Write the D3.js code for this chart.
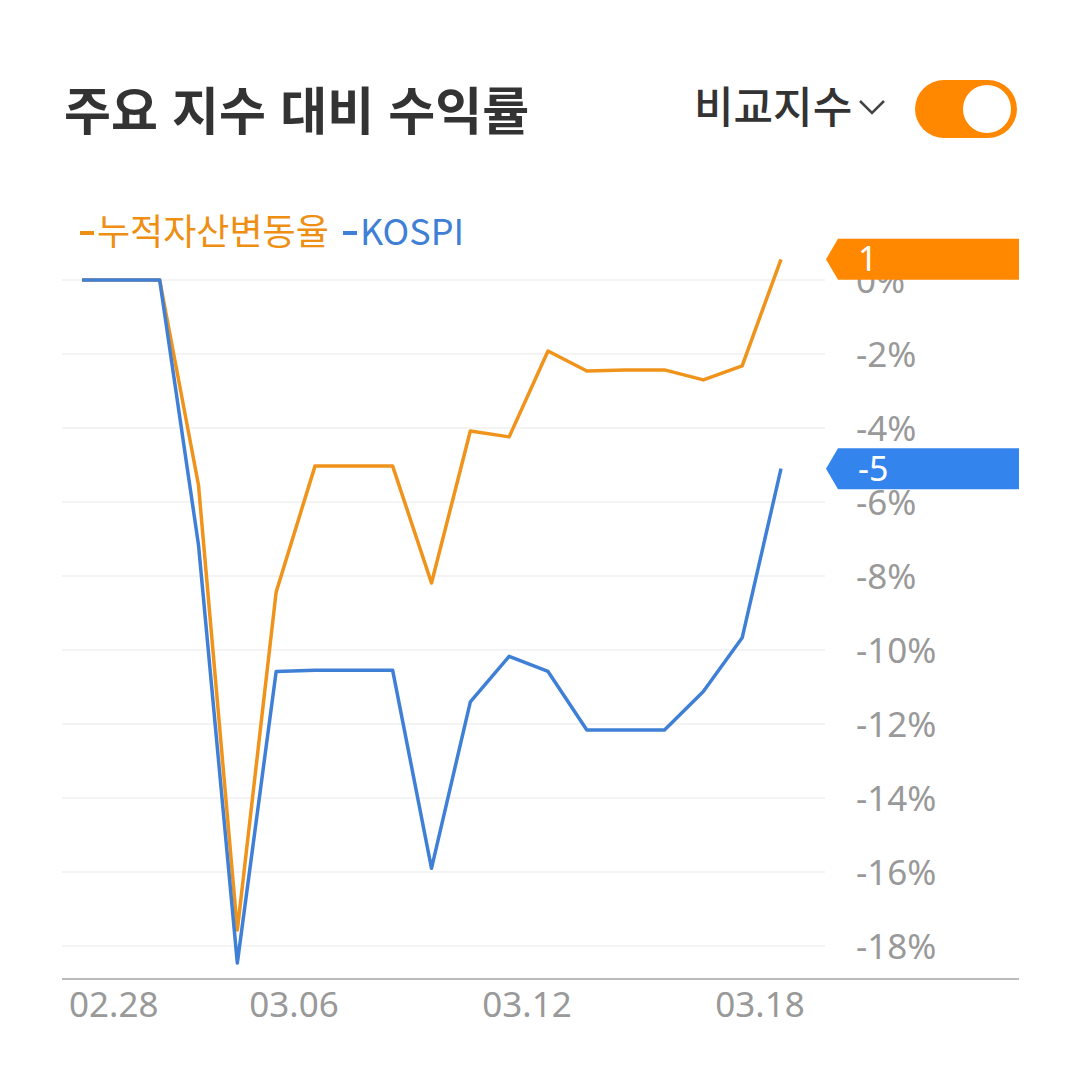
<!DOCTYPE html>
<html lang="ko">
<head>
    <meta charset='utf-8'>
    <title>주요 지수 대비 수익률</title>
    <style>
        body{
            margin: 0;
            background: #fff;
        }
        text {
            font-family: "Noto Sans CJK KR", "Noto Sans", sans-serif;
        }
        .tick-label {
            font-family: "Noto Sans", "Noto Sans CJK KR", sans-serif;
            fill: #999;
            font-size: 35px;
        }
    </style>
</head>
<body>
<div id="chart"></div>
<script src='https://cdn.jsdelivr.net/npm/d3@7/dist/d3.min.js'></script>
<script>
    var width = 1080, height = 1067;

    // data
    var dates = ["02.28", "03.01", "03.02", "03.03", "03.04", "03.05", "03.06",
        "03.07", "03.08", "03.09", "03.10", "03.11", "03.12", "03.13",
        "03.14", "03.15", "03.16", "03.17", "03.18"];
    var assetChange = [0, 0, 0, -5.54, -17.57, -8.43, -5.03, -5.03, -5.03, -8.19,
        -4.08, -4.24, -1.92, -2.46, -2.43, -2.43, -2.7, -2.32, 0.56];
    var kospi = [0, 0, 0, -7.16, -18.46, -10.58, -10.55, -10.55, -10.55, -15.9,
        -11.4, -10.17, -10.58, -12.16, -12.16, -12.16, -11.12, -9.67, -5.1];
    var xTicks = ["02.28", "03.06", "03.12", "03.18"];
    var yTicks = [0, -2, -4, -6, -8, -10, -12, -14, -16, -18];
    var seriesNames = ["누적자산변동율", "KOSPI"];

    var lineColor = ["#F0931B", "#3F80D6"];
    var badgeColor = ["#FF8800", "#3484EE"];

    var svg = d3.select("#chart").append("svg")
        .attr("width", width).attr("height", height);

    // header
    svg.append("text")
        .attr("x", 64).attr("y", 130)
        .style("font-size", "51px")
        .style("font-weight", "bold")
        .style("fill", "#333")
        .text("주요 지수 대비 수익률");

    svg.append("text")
        .attr("x", 694).attr("y", 123)
        .style("font-size", "43px")
        .style("font-weight", "500")
        .style("fill", "#333")
        .text("비교지수");

    svg.append("path")
        .attr("d", "M860,101 L872,113 L884,101")
        .attr("fill", "none")
        .attr("stroke", "#444")
        .attr("stroke-width", 2.5);

    svg.append("rect")
        .attr("x", 915).attr("y", 80)
        .attr("width", 102).attr("height", 58)
        .attr("rx", 29)
        .attr("fill", "#FF8800");
    svg.append("circle")
        .attr("cx", 987).attr("cy", 109).attr("r", 24)
        .attr("fill", "#fff");

    // legend
    var legendColor = ["#EE8F14", "#3F80D6"];
    var legendX = [80, 343];
    seriesNames.forEach(function(name, i){
        svg.append("rect")
            .attr("x", legendX[i]).attr("y", 231)
            .attr("width", 14).attr("height", 4)
            .attr("fill", legendColor[i]);
        svg.append("text")
            .attr("x", legendX[i] + 17).attr("y", 245)
            .style("font-size", "36px")
            .style("fill", legendColor[i])
            .text(name);
    });

    // scales
    var x = d3.scalePoint().domain(dates).range([82, 781]);
    var y = d3.scaleLinear().domain([0, -18]).range([280, 946]);

    // grid
    svg.append("g").selectAll("line")
        .data(yTicks).enter()
        .append("line")
        .attr("x1", 62).attr("x2", 825)
        .attr("y1", function(d){ return y(d); })
        .attr("y2", function(d){ return y(d); })
        .attr("stroke", "#f0f0f0")
        .attr("stroke-width", 1.5);

    // y labels
    svg.append("g").selectAll("text")
        .data(yTicks).enter()
        .append("text")
        .attr("class", "tick-label")
        .attr("x", 856)
        .attr("y", function(d){ return y(d) + 13; })
        .text(function(d){ return (d < 0 ? "-" + (-d) : d) + "%"; });

    // x axis baseline
    svg.append("line")
        .attr("x1", 62).attr("x2", 1019)
        .attr("y1", 979).attr("y2", 979)
        .attr("stroke", "#bbb")
        .attr("stroke-width", 2);

    svg.append("g").selectAll("text")
        .data(xTicks).enter()
        .append("text")
        .attr("class", "tick-label")
        .attr("x", function(d, i){ return i === 0 ? x(d) - 13 : x(d) - 21; })
        .attr("y", 1017)
        .style("text-anchor", function(d, i){ return i === 0 ? "start" : "middle"; })
        .text(function(d){ return d; });

    // lines
    var line = d3.line()
        .x(function(d, i){ return x(dates[i]); })
        .y(function(d){ return y(d); });

    var series = [assetChange, kospi];

    svg.append("path")
        .datum(assetChange)
        .attr("d", line)
        .attr("fill", "none")
        .attr("stroke", lineColor[0])
        .attr("stroke-width", 3.5)
        .attr("stroke-linejoin", "round");
    svg.append("path")
        .datum(kospi)
        .attr("d", line)
        .attr("fill", "none")
        .attr("stroke", lineColor[1])
        .attr("stroke-width", 3.5)
        .attr("stroke-linejoin", "round");

    // last value badges
    series.forEach(function(s, i){
        var last = s[s.length - 1];
        var cy = y(last);
        var h = 41, left = 826, right = 1019;
        svg.append("path")
            .attr("d", "M" + left + "," + cy +
                " L" + (left + 12) + "," + (cy - h / 2) +
                " L" + right + "," + (cy - h / 2) +
                " L" + right + "," + (cy + h / 2) +
                " L" + (left + 12) + "," + (cy + h / 2) + " Z")
            .attr("fill", badgeColor[i]);
        svg.append("text")
            .attr("x", 858)
            .attr("y", cy + 12)
            .style("font-family", "'Noto Sans', sans-serif")
            .style("font-size", "34px")
            .style("fill", "#fff")
            .text(Math.round(last));
    });
</script>
</body>
</html>
